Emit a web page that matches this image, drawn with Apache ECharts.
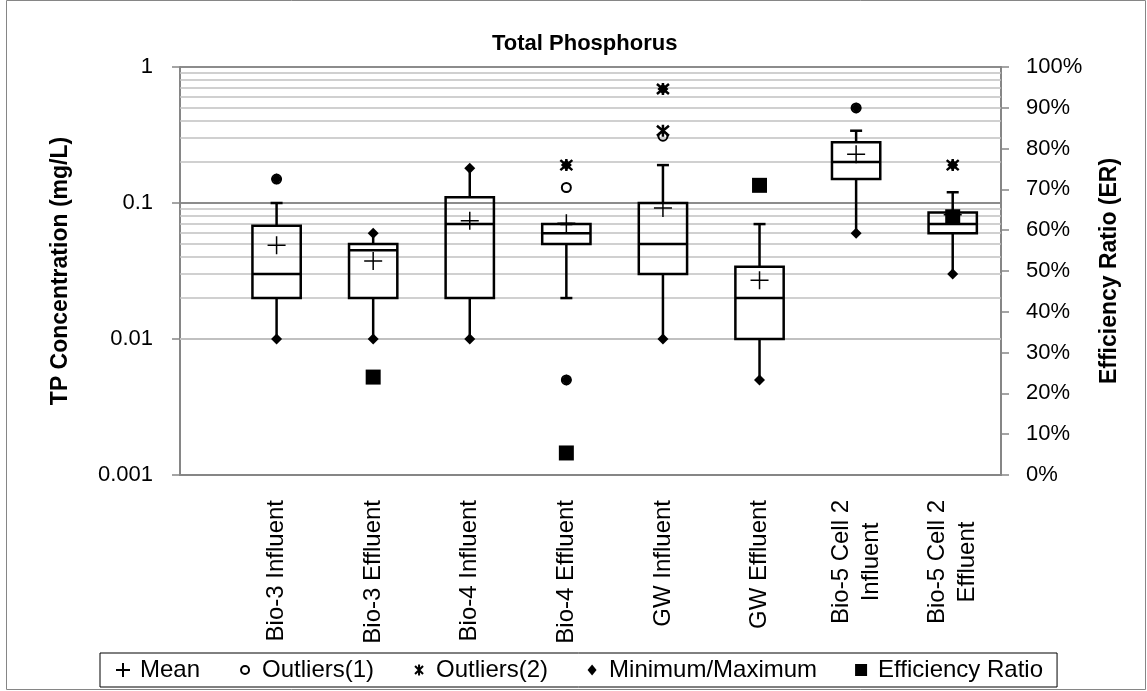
<!DOCTYPE html>
<html>
<head>
<meta charset="utf-8">
<title>Total Phosphorus</title>
<script src="https://cdn.jsdelivr.net/npm/echarts@6.0.0/dist/echarts.min.js"></script>
<style>
  html, body { margin: 0; padding: 0; background: #fff; }
  #chart { width: 1147px; height: 691px; }
</style>
</head>
<body>
<div id="chart"></div>
<script>
// categories sit at x = 1..8 on a 0..8.5 axis (first half-slot left empty like the original)
const categories = ['Bio-3 Influent', 'Bio-3 Effluent', 'Bio-4 Influent', 'Bio-4 Effluent',
  'GW Influent', 'GW Effluent', 'Bio-5 Cell 2\nInfluent', 'Bio-5 Cell 2\nEffluent'];

// box statistics (mg/L)
const whiskerLow  = [0.01, 0.01, 0.01, 0.02, 0.01, 0.005, 0.06, 0.03];
const q1          = [0.02, 0.02, 0.02, 0.05, 0.03, 0.01, 0.15, 0.06];
const median      = [0.03, 0.045, 0.07, 0.06, 0.05, 0.02, 0.2, 0.07];
const q3          = [0.068, 0.05, 0.11, 0.07, 0.1, 0.034, 0.28, 0.085];
const whiskerHigh = [0.1, 0.06, 0.18, 0.07, 0.19, 0.07, 0.34, 0.12];
const means       = [0.049, 0.0375, 0.074, 0.071, 0.092, 0.027, 0.228, 0.082];
const minValues   = [0.01, 0.01, 0.01, 0.005, 0.01, 0.005, 0.06, 0.03];
const maxValues   = [0.15, 0.06, 0.18, 0.19, 0.69, 0.135, 0.5, 0.19];

// outliers
const outlier1Pos = [1, 4, 4, 5, 7];
const outlier1Val = [0.15, 0.13, 0.005, 0.31, 0.5];
const outlier2Pos = [4, 5, 5, 8];
const outlier2Val = [0.19, 0.34, 0.69, 0.19];

// efficiency ratio (right axis)
const erPos = [2, 4, 6, 8];
const erVal = [0.24, 0.054, 0.71, 0.633];

// log axis minor grid values
const decades = [0.001, 0.01, 0.1];
const minorTicks = [];
decades.forEach(d => { for (let k = 2; k <= 9; k++) minorTicks.push(+(k * d).toPrecision(2)); });

const FONT = 'Liberation Sans';
const AXIS_GREY = '#868686';

const boxData = categories.map((c, i) => [
  i + 1, whiskerLow[i], q1[i], median[i], q3[i], whiskerHigh[i],
  whiskerLow[i] > minValues[i] ? 1 : 0,
  whiskerHigh[i] < maxValues[i] ? 1 : 0
]);

function renderBox(params, api) {
  const x = api.value(0);
  const pLow = api.coord([x, api.value(1)]);
  const pQ1 = api.coord([x, api.value(2)]);
  const pMed = api.coord([x, api.value(3)]);
  const pQ3 = api.coord([x, api.value(4)]);
  const pHigh = api.coord([x, api.value(5)]);
  const w = Math.abs(api.coord([x + 0.25, api.value(2)])[0] - api.coord([x - 0.25, api.value(2)])[0]);
  const cx = pQ1[0];
  const stroke = { stroke: '#000', lineWidth: 2.5, fill: null };
  const kids = [];
  if (pHigh[1] < pQ3[1]) kids.push({ type: 'line', shape: { x1: cx, y1: pQ3[1], x2: cx, y2: pHigh[1] }, style: stroke });
  if (pLow[1] > pQ1[1]) kids.push({ type: 'line', shape: { x1: cx, y1: pQ1[1], x2: cx, y2: pLow[1] }, style: stroke });
  kids.push({ type: 'rect', shape: { x: cx - w / 2, y: pQ3[1], width: w, height: pQ1[1] - pQ3[1] }, style: stroke });
  kids.push({ type: 'line', shape: { x1: cx - w / 2, y1: pMed[1], x2: cx + w / 2, y2: pMed[1] }, style: stroke });
  if (api.value(6)) kids.push({ type: 'line', shape: { x1: cx - 6, y1: pLow[1], x2: cx + 6, y2: pLow[1] }, style: stroke });
  if (api.value(7)) kids.push({ type: 'line', shape: { x1: cx - 6, y1: pHigh[1], x2: cx + 6, y2: pHigh[1] }, style: stroke });
  return { type: 'group', children: kids };
}

const chart = echarts.init(document.getElementById('chart'), null, { renderer: 'canvas' });

const option = {
  animation: false,
  backgroundColor: '#fff',
  title: {
    text: 'Total Phosphorus',
    left: 487,
    top: 28,
    textStyle: { fontFamily: FONT, fontSize: 22, fontWeight: 'bold', color: '#000' }
  },
  graphic: [{
    type: 'rect',
    shape: { x: 6.5, y: 0.5, width: 1139, height: 689 },
    style: { fill: null, stroke: AXIS_GREY, lineWidth: 1 },
    silent: true, z: -1
  }],
  legend: {
    left: 100,
    top: 653,
    padding: [5, 14],
    itemGap: 36,
    itemWidth: 16,
    itemHeight: 16,
    borderColor: '#000',
    borderWidth: 1,
    selectedMode: false,
    textStyle: { fontFamily: FONT, fontSize: 24, color: '#000', padding: [0, 0, 0, 4] },
    data: [
      { name: 'Mean', icon: 'path://M0 0M16 16M8 1L8 15M1 8L15 8' },
      { name: 'Outliers(1)', icon: 'path://M0 0M16 16M4 8a4 4 0 1 0 8 0a4 4 0 1 0 -8 0' },
      { name: 'Outliers(2)', icon: 'path://M0 0M16 16M4 4L12 12M12 4L4 12M8 2.5L8 13.5' },
      { name: 'Minimum/Maximum', icon: 'path://M0 0M16 16M8 2.5L12.5 8L8 13.5L3.5 8Z' },
      { name: 'Efficiency Ratio', icon: 'path://M0 0M16 16M2 2L14 2L14 14L2 14Z' }
    ]
  },
  grid: { left: 180, right: 146, top: 67, bottom: 216, containLabel: false },
  xAxis: {
    type: 'value',
    min: 0,
    max: 8.5,
    interval: 1,
    axisLine: { show: true, lineStyle: { color: AXIS_GREY, width: 2 } },
    axisTick: { show: false },
    splitLine: { show: false },
    axisLabel: {
      rotate: 90,
      margin: 25,
      fontFamily: FONT,
      fontSize: 24,
      color: '#000',
      showMaxLabel: false,
      formatter: v => {
        const name = Number.isInteger(v) && v >= 1 ? categories[v - 1] : '';
        if (!name) return '';
        if (name.indexOf('\n') < 0) return name;
        return name.split('\n').map(s => '{c|' + s + '}').join('\n');
      },
      rich: { c: { width: 124, align: 'center', fontFamily: FONT, fontSize: 24, lineHeight: 30, color: '#000' } }
    }
  },
  yAxis: [{
    type: 'log',
    logBase: 10,
    min: 0.001,
    max: 1,
    position: 'left',
    name: 'TP Concentration (mg/L)',
    nameLocation: 'middle',
    nameRotate: 90,
    nameGap: 108,
    nameTextStyle: { fontFamily: FONT, fontSize: 23, fontWeight: 'bold', color: '#000' },
    axisLine: { show: true, lineStyle: { color: AXIS_GREY, width: 2 } },
    axisTick: { show: true, inside: false, length: 8, lineStyle: { color: AXIS_GREY, width: 1.5 } },
    splitLine: { show: true, lineStyle: { color: '#8c8c8c', width: 2 } },
    axisLabel: {
      margin: 27,
      fontFamily: FONT,
      fontSize: 22,
      color: '#000',
      formatter: v => String(Number(Number(v).toPrecision(3)))
    }
  }, {
    type: 'value',
    min: 0,
    max: 1,
    interval: 0.1,
    position: 'right',
    name: 'Efficiency Ratio (ER)',
    nameLocation: 'middle',
    nameRotate: 90,
    nameGap: 97,
    nameTextStyle: { fontFamily: FONT, fontSize: 23, fontWeight: 'bold', color: '#000' },
    axisLine: { show: true, lineStyle: { color: AXIS_GREY, width: 2 } },
    axisTick: { show: true, inside: false, length: 8, lineStyle: { color: AXIS_GREY, width: 1.5 } },
    splitLine: { show: false },
    axisLabel: {
      margin: 25,
      fontFamily: FONT,
      fontSize: 22,
      color: '#000',
      formatter: v => Math.round(v * 100) + '%'
    }
  }],
  series: [
    {
      name: 'minor grid',
      type: 'line',
      data: [],
      yAxisIndex: 0,
      silent: true,
      z: 1,
      markLine: {
        silent: true,
        z: 1,
        symbol: ['none', 'none'],
        label: { show: false },
        lineStyle: { color: '#c0c0c0', width: 1.5, type: 'solid' },
        emphasis: { disabled: true },
        data: minorTicks.map(v => ({ yAxis: v }))
      }
    },
    {
      name: 'boxes',
      type: 'custom',
      renderItem: renderBox,
      data: boxData,
      encode: { x: 0, y: [1, 2, 3, 4, 5] },
      silent: true,
      z: 10
    },
    {
      name: 'Minimum/Maximum',
      type: 'scatter',
      symbol: 'diamond',
      symbolSize: [11, 11],
      itemStyle: { color: '#000', opacity: 1 },
      silent: true,
      z: 11,
      data: minValues.map((v, i) => [i + 1, v]).concat(maxValues.map((v, i) => [i + 1, v]))
    },
    {
      name: 'Outliers(1)',
      type: 'scatter',
      symbol: 'circle',
      symbolSize: 9,
      itemStyle: { color: 'rgba(0,0,0,0)', borderColor: '#000', borderWidth: 2, opacity: 1 },
      silent: true,
      z: 12,
      data: outlier1Pos.map((p, i) => [p, outlier1Val[i]])
    },
    {
      name: 'Outliers(2)',
      type: 'scatter',
      symbol: 'path://M0 0L10 10M10 0L0 10M5 -1L5 11',
      symbolSize: 12,
      itemStyle: { color: 'rgba(0,0,0,0)', borderColor: '#000', borderWidth: 2.5, opacity: 1 },
      silent: true,
      z: 13,
      data: outlier2Pos.map((p, i) => [p, outlier2Val[i]])
    },
    {
      name: 'Mean',
      type: 'scatter',
      symbol: 'path://M10 0L10 20M0 10L20 10',
      symbolSize: 18,
      itemStyle: { color: 'rgba(0,0,0,0)', borderColor: '#000', borderWidth: 1.5, opacity: 1 },
      silent: true,
      z: 14,
      data: means.map((v, i) => [i + 1, v])
    },
    {
      name: 'Efficiency Ratio',
      type: 'scatter',
      yAxisIndex: 1,
      symbol: 'rect',
      symbolSize: 15,
      itemStyle: { color: '#000', opacity: 1 },
      silent: true,
      z: 15,
      data: erPos.map((p, i) => [p, erVal[i]])
    }
  ]
};

chart.setOption(option);
</script>
</body>
</html>
